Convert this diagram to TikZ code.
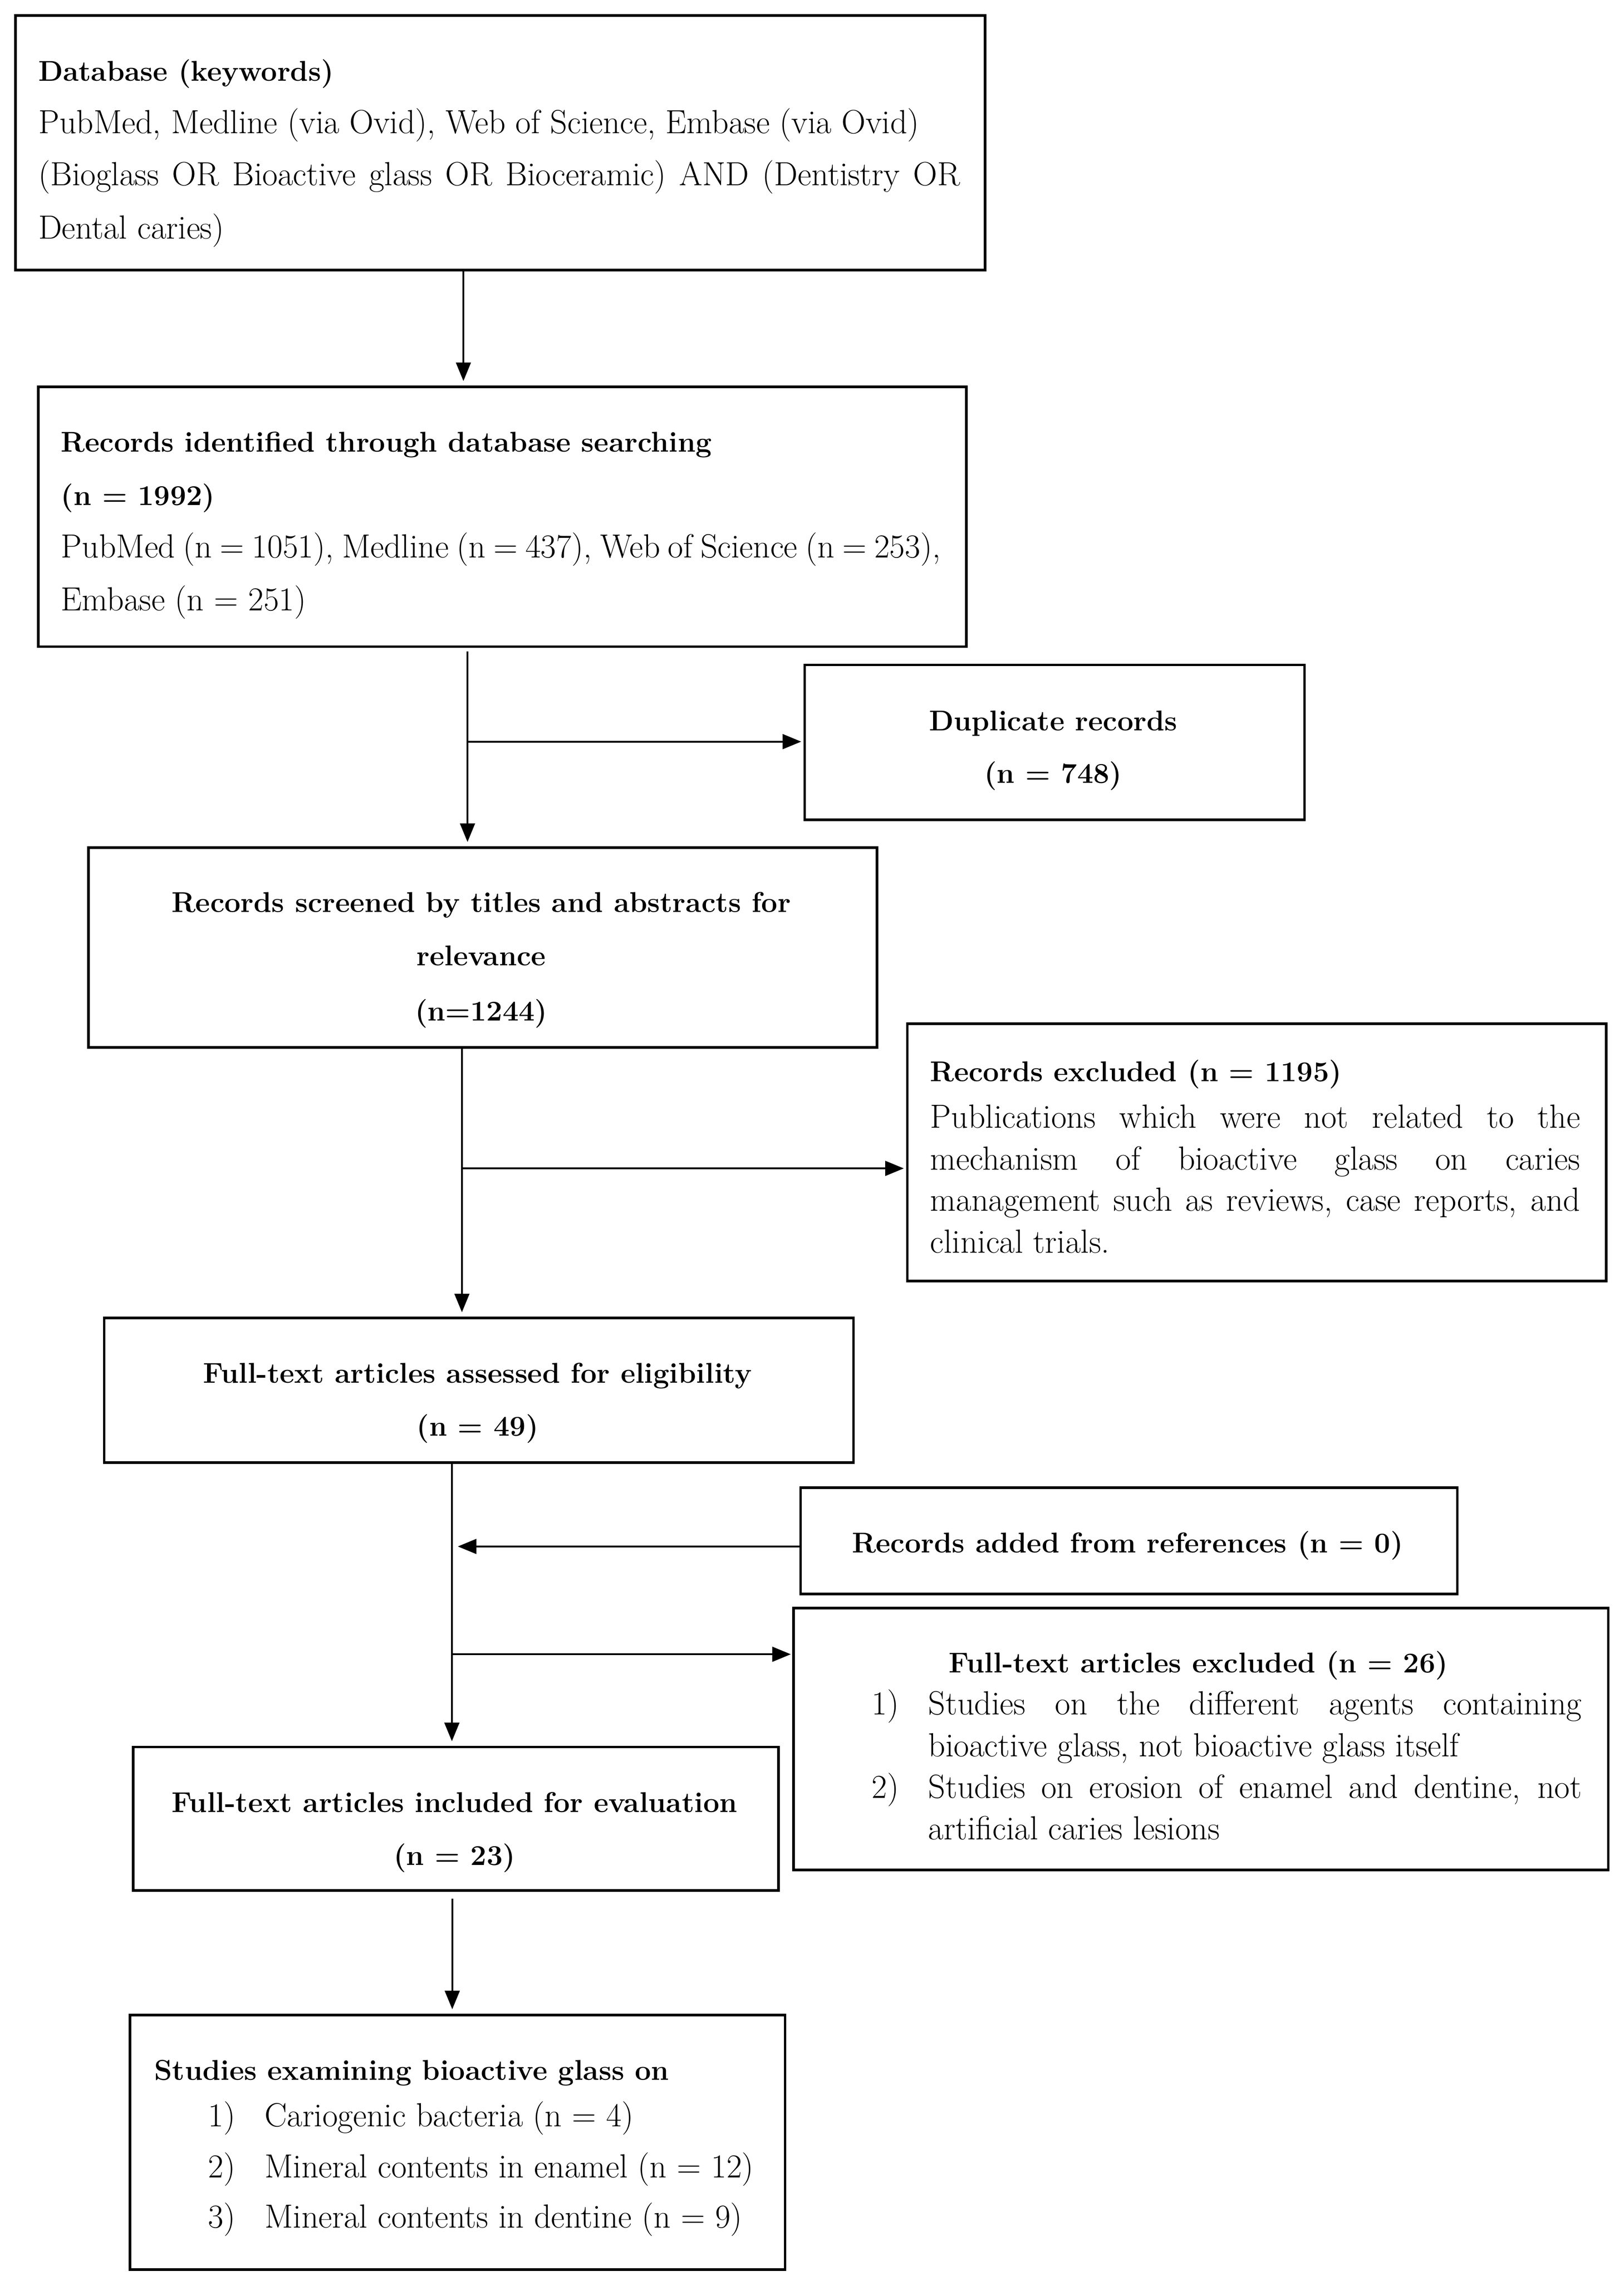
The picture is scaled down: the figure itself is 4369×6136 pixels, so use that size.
\documentclass[tikz,border=0pt]{standalone}
\usepackage{fontspec}
\usetikzlibrary{arrows.meta}
\newcommand{\bx}{\fontsize{77}{96}\selectfont\bfseries}
\begin{document}
\begin{tikzpicture}[x=1pt,y=-1pt,
  every node/.style={font=\fontsize{90}{100}\selectfont},
  box/.style={draw, line width=7pt, inner sep=0pt, anchor=north west},
  tl/.style={inner sep=0pt, anchor=base west},
  tc/.style={inner sep=0pt, anchor=base},
  conn/.style={line width=4.5pt},
  arr/.style={conn, -{Triangle[length=50pt,width=40pt]}, shorten >=12pt}]
\useasboundingbox (0,0) rectangle (4369,6136);
% boxes
\node[box, minimum width=2609pt, minimum height=685pt] (db)  at (38,38) {};
\node[box, minimum width=2497pt, minimum height=699pt] (rec) at (100,1037) {};
\node[box, minimum width=1345pt, minimum height=417pt] (dup) at (2162,1785) {};
\node[box, minimum width=2121pt, minimum height=537pt] (scr) at (235,2277) {};
\node[box, minimum width=1881pt, minimum height=692pt] (exc) at (2438,2750) {};
\node[box, minimum width=2016pt, minimum height=389pt] (ass) at (277,3542) {};
\node[box, minimum width=1767pt, minimum height=286pt] (add) at (2151,3998) {};
\node[box, minimum width=2192pt, minimum height=705pt] (ftx) at (2132,4322) {};
\node[box, minimum width=1736pt, minimum height=386pt] (inc) at (355,4696) {};
\node[box, minimum width=1763pt, minimum height=685pt] (stu) at (346,5417) {};
% texts
\node[tl] (db1) at (103,218) {\bx Database (keywords)};
\node[tl] (db2) at (103,359) {PubMed, Medline (via Ovid), Web of Science, Embase (via Ovid)};
\node[tl] (db3) at (103,499) {\makebox[2480pt][s]{(Bioglass OR Bioactive glass OR Bioceramic) AND (Dentistry OR}};
\node[tl] (db4) at (103,642) {Dental caries)};
\node[tl] (rec1) at (164,1215) {\bx Records identified through database searching};
\node[tl] (rec2) at (164,1359) {\bx (n = 1992)};
\node[tl] (rec3) at (164,1500) {\makebox[2367pt][s]{PubMed (n = 1051), Medline (n = 437), Web of Science (n = 253),}};
\node[tl] (rec4) at (164,1642) {Embase (n = 251)};
\node[tc] (dup1) at (2834,1965) {\bx Duplicate records};
\node[tc] (dup2) at (2834,2107) {\bx (n = 748)};
\node[tc] (scr1) at (1295,2454) {\bx Records screened by titles and abstracts for};
\node[tc] (scr2) at (1295,2597) {\bx relevance};
\node[tc] (scr3) at (1295,2746) {\bx (n=1244)};
\node[tl] (exc1) at (2503,2909) {\bx Records excluded (n = 1195)};
\node[tl] (exc2) at (2503,3034) {\makebox[1749pt][s]{Publications which were not related to the}};
\node[tl] (exc3) at (2503,3147) {\makebox[1749pt][s]{mechanism of bioactive glass on caries}};
\node[tl] (exc4) at (2503,3258) {\makebox[1749pt][s]{management such as reviews, case reports, and}};
\node[tl] (exc5) at (2503,3370) {clinical trials.};
\node[tc] (ass1) at (1285,3720) {\bx Full-text articles assessed for eligibility};
\node[tc] (ass2) at (1285,3862) {\bx (n = 49)};
\node[tc] (add1) at (3034,4177) {\bx Records added from references (n = 0)};
\node[tc] (ftx1) at (3225,4499) {\bx Full-text articles excluded (n = 26)};
\node[tl] (ftxn1) at (2346,4612) {1)};
\node[tl] (ftx2) at (2498,4612) {\makebox[1758pt][s]{Studies on the different agents containing}};
\node[tl] (ftx3) at (2498,4725) {bioactive glass, not bioactive glass itself};
\node[tl] (ftxn2) at (2346,4837) {2)};
\node[tl] (ftx4) at (2498,4837) {\makebox[1758pt][s]{Studies on erosion of enamel and dentine, not}};
\node[tl] (ftx5) at (2498,4949) {artificial caries lesions};
\node[tc] (inc1) at (1223,4875) {\bx Full-text articles included for evaluation};
\node[tc] (inc2) at (1223,5017) {\bx (n = 23)};
\node[tl] (stu1) at (415,5595) {\bx Studies examining bioactive glass on};
\node[tl] (stun1) at (560,5720) {1)};
\node[tl] (stu2) at (712,5720) {Cariogenic bacteria (n = 4)};
\node[tl] (stun2) at (560,5858) {2)};
\node[tl] (stu3) at (712,5858) {Mineral contents in enamel (n = 12)};
\node[tl] (stun3) at (560,5993) {3)};
\node[tl] (stu4) at (712,5993) {Mineral contents in dentine (n = 9)};
% connector coordinates
\coordinate (c1) at (1247,0);
\coordinate (c2) at (1258,0);
\coordinate (c3) at (1243,0);
\coordinate (c4) at (1216,0);
\coordinate (c5) at (1217,0);
\coordinate (b1) at (1258,1995);
\coordinate (b2) at (1243,3143);
\coordinate (b3) at (1232,4160);
\coordinate (b4) at (1216,4450);
% connectors
\draw[arr] (db.south -| c1) -- (rec.north -| c1);
\draw[arr, shorten <=10pt] (rec.south -| c2) -- (scr.north -| c2);
\draw[arr, shorten >=6pt] (b1) -- (b1 -| dup.west);
\draw[arr] (scr.south -| c3) -- (ass.north -| c3);
\draw[arr, shorten >=6pt] (b2) -- (b2 -| exc.west);
\draw[arr] (ass.south -| c4) -- (inc.north -| c4);
\draw[arr, shorten >=0pt] (add.west |- b3) -- (b3);
\draw[arr, shorten >=4pt] (b4) -- (b4 -| ftx.west);
\draw[arr, shorten <=18pt] (inc.south -| c5) -- (stu.north -| c5);
\end{tikzpicture}
\end{document}
